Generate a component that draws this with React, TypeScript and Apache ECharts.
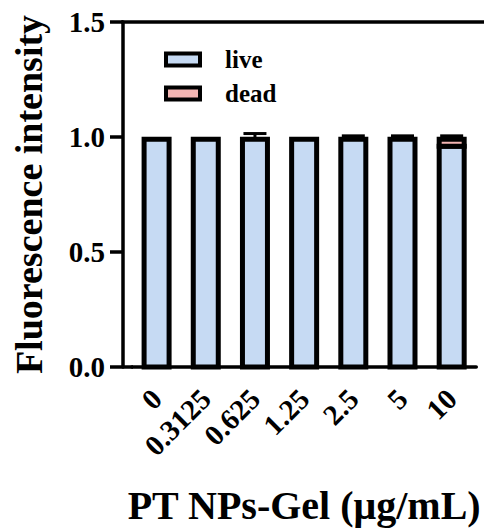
import React, { useEffect, useRef } from "react";
import * as echarts from "echarts";

const categories = ["0", "0.3125", "0.625", "1.25", "2.5", "5", "10"];
const liveValues = [0.99, 0.99, 0.99, 0.99, 0.99, 0.99, 0.96];
const deadValues = [0, 0, 0, 0, 0, 0, 0.03];
const errorValues = [0, 0, 0.025, 0, 0.015, 0.015, 0.015];
const yTicks = [0, 0.5, 1.0, 1.5];

const FONT = "'Liberation Serif', 'Times New Roman', serif";
const GRID_LEFT = 132;
const GRID_RIGHT = 5;
const GRID_TOP = 22;
const GRID_BOTTOM = 165;
const Y_OFFSET = 9;
const AXIS_W = 3.5;
const BAR_W = 25;
const BAR_BORDER = 5;
const LIVE_COLOR = "#C6DAF3";
const DEAD_COLOR = "#F3B5B3";

export default function App() {
  const ref = useRef<HTMLDivElement>(null);
  useEffect(() => {
    if (!ref.current) return;
    const chart = echarts.init(ref.current, null, { renderer: "svg" });
    const W = 484;
    const H = 532;
    const axisX = GRID_LEFT - Y_OFFSET;
    const bottomY = H - GRID_BOTTOM;
    const liveData = categories.map((_, i) => [i, 0, liveValues[i]]);
    const deadData = categories.map((_, i) => [i, liveValues[i], liveValues[i] + deadValues[i]]);
    const errData = categories.map((_, i) => [i, liveValues[i] + deadValues[i], errorValues[i]]);

    const barRender = (color: string) => (params: any, api: any) => {
      const i = api.value(0);
      const lo = api.value(1);
      const hi = api.value(2);
      if (hi - lo <= 0) return { type: "group", children: [] };
      const pLo = api.coord([i, lo]);
      const pHi = api.coord([i, hi]);
      return {
        type: "rect",
        shape: { x: pLo[0] - BAR_W / 2, y: pHi[1], width: BAR_W, height: pLo[1] - pHi[1] },
        style: { fill: color, stroke: "#000", lineWidth: BAR_BORDER },
      };
    };

    chart.setOption({
      animation: false,
      backgroundColor: "#ffffff",
      grid: { left: GRID_LEFT, right: GRID_RIGHT, top: GRID_TOP, bottom: GRID_BOTTOM, containLabel: false },
      legend: {
        data: ["live", "dead"],
        orient: "vertical",
        left: 164,
        top: 47,
        padding: 0,
        itemGap: 9,
        itemWidth: 34,
        itemHeight: 12,
        icon: "rect",
        itemStyle: { borderColor: "#000", borderWidth: 4 },
        textStyle: { fontFamily: FONT, fontWeight: "bold", fontSize: 25, color: "#000", padding: [0, 0, 0, 20] },
      },
      xAxis: {
        type: "category",
        data: categories,
        boundaryGap: true,
        axisLine: { lineStyle: { color: "#000", width: AXIS_W } },
        axisTick: { alignWithLabel: true, length: 13, lineStyle: { color: "#000", width: AXIS_W } },
        axisLabel: { rotate: 45, margin: 27, fontFamily: FONT, fontWeight: "bold", fontSize: 29, color: "#000", interval: 0 },
        name: "PT NPs-Gel (μg/mL)",
        nameLocation: "middle",
        nameGap: 118,
        nameTextStyle: { fontFamily: FONT, fontWeight: "bold", fontSize: 40, color: "#000" },
      },
      yAxis: {
        type: "value",
        min: 0,
        max: 1.5,
        interval: 0.5,
        offset: Y_OFFSET,
        axisLine: { show: true, lineStyle: { color: "#000", width: AXIS_W } },
        axisTick: { show: true, length: 13, lineStyle: { color: "#000", width: AXIS_W } },
        splitLine: { show: false },
        axisLabel: {
          margin: 18,
          fontFamily: FONT,
          fontWeight: "bold",
          fontSize: 29,
          color: "#000",
          formatter: (v: number) => (yTicks.includes(v) ? v.toFixed(1) : ""),
        },
        name: "Fluorescence intensity",
        nameLocation: "middle",
        nameGap: 75,
        nameTextStyle: { fontFamily: FONT, fontWeight: "bold", fontSize: 38, color: "#000" },
      },
      series: [
        {
          name: "live",
          type: "custom",
          data: liveData,
          encode: { x: 0, y: [1, 2] },
          itemStyle: { color: LIVE_COLOR, borderColor: "#000", borderWidth: 4 },
          renderItem: barRender(LIVE_COLOR),
        },
        {
          name: "dead",
          type: "custom",
          data: deadData,
          encode: { x: 0, y: [1, 2] },
          itemStyle: { color: DEAD_COLOR, borderColor: "#000", borderWidth: 4 },
          renderItem: barRender(DEAD_COLOR),
        },
        {
          name: "err",
          type: "custom",
          data: errData,
          encode: { x: 0, y: 1 },
          z: 10,
          renderItem: (params: any, api: any) => {
            const i = api.value(0);
            const top = api.value(1);
            const e = api.value(2);
            if (!e) return { type: "group", children: [] };
            const p0 = api.coord([i, top]);
            const p1 = api.coord([i, top + e]);
            const half = 11.5;
            return {
              type: "group",
              children: [
                { type: "line", shape: { x1: p0[0], y1: p0[1], x2: p1[0], y2: p1[1] }, style: { stroke: "#000", lineWidth: 3 } },
                { type: "line", shape: { x1: p1[0] - half, y1: p1[1], x2: p1[0] + half, y2: p1[1] }, style: { stroke: "#000", lineWidth: 3 } },
              ],
            };
          },
        },
      ],
      graphic: [
        { type: "line", shape: { x1: axisX - AXIS_W / 2, y1: GRID_TOP, x2: W, y2: GRID_TOP }, style: { stroke: "#000", lineWidth: AXIS_W } },
        { type: "line", shape: { x1: axisX, y1: bottomY, x2: GRID_LEFT + 1, y2: bottomY }, style: { stroke: "#000", lineWidth: AXIS_W } },
      ],
    });
    return () => chart.dispose();
  }, []);
  return <div ref={ref} style={{ width: 484, height: 532, position: "absolute", left: 0, top: 0 }} />;
}
